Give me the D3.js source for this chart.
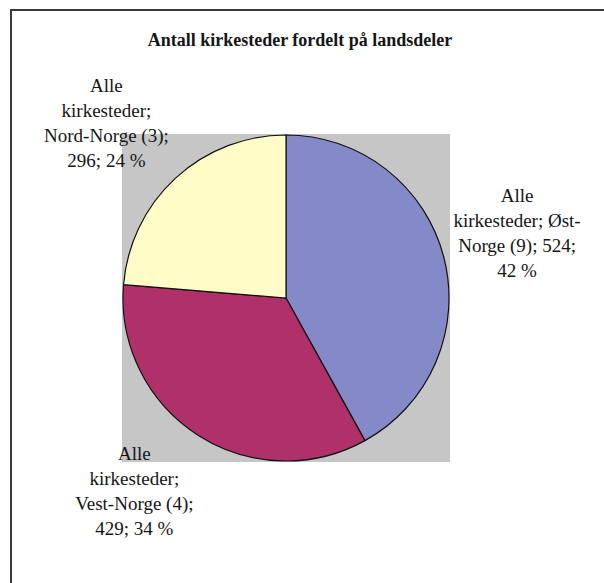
<!DOCTYPE html>
<html>
<head>
<meta charset="utf-8">
<script src="https://cdn.jsdelivr.net/npm/d3@7"></script>
<style>
  body { margin: 0; background: #fff; }
  text { font-family: "Liberation Serif", "Times New Roman", Times, "Nimbus Roman", "DejaVu Serif", serif; fill: #151515; }
</style>
</head>
<body>
<div id="chart"></div>
<script>
var title = "Antall kirkesteder fordelt på landsdeler";
var regions = ["Øst-Norge (9)", "Vest-Norge (4)", "Nord-Norge (3)"];
var counts = [524, 429, 296];
var percents = [42, 34, 24];
var colors = ["#8489c8", "#b0316a", "#fffcc8"];
// label text broken the way the original wraps it
var labelLines = [
  ["Alle", "kirkesteder; Øst-", "Norge (9); 524;", "42 %"],
  ["Alle", "kirkesteder;", "Vest-Norge (4);", "429; 34 %"],
  ["Alle", "kirkesteder;", "Nord-Norge (3);", "296; 24 %"]
];

var width = 604, height = 583;
var plot = {x: 122, y: 134, size: 328};
var radius = 163,
  lineH = 25;

var data = regions.map(function(d, i) {
  return {region: d, count: counts[i], pct: percents[i], color: colors[i], lines: labelLines[i]};
});

var svg = d3.select("#chart").append("svg")
  .attr("width", width)
  .attr("height", height);

// chart frame (right and bottom edges fall outside the crop)
svg.append("rect")
  .attr("x", 11)
  .attr("y", 10)
  .attr("width", width + 20)
  .attr("height", height + 20)
  .attr("fill", "#fff")
  .attr("stroke", "#3a3a3a")
  .attr("stroke-width", 2);

svg.append("text")
  .attr("x", 300)
  .attr("y", 46)
  .attr("text-anchor", "middle")
  .style("font-size", "18px")
  .style("font-weight", "bold")
  .text(title);

// plot area
svg.append("rect")
  .attr("x", plot.x)
  .attr("y", plot.y)
  .attr("width", plot.size)
  .attr("height", plot.size)
  .attr("fill", "#c6c6c6");

var cx = plot.x + plot.size / 2,
  cy = plot.y + plot.size / 2;

var pie = d3.pie()
  .sort(null)
  .value(function(d) { return d.count; });

var arc = d3.arc()
  .innerRadius(0)
  .outerRadius(radius);

var arcs = pie(data);

var g = svg.append("g")
  .attr("transform", "translate(" + cx + "," + cy + ")");

g.selectAll("path.slice")
  .data(arcs)
  .enter().append("path")
    .attr("class", "slice")
    .attr("d", arc)
    .attr("fill", function(d) { return d.data.color; })
    .attr("stroke", "#111")
    .attr("stroke-width", 1.2);

// labels: anchor the box edge/corner facing the pie on a ring just outside it
var labelR = radius + 10;

var labels = g.selectAll("g.label")
  .data(arcs)
  .enter().append("g")
    .attr("class", "label");

labels.append("text")
  .attr("text-anchor", "middle")
  .style("font-size", "19px")
  .selectAll("tspan")
    .data(function(d) { return d.data.lines; })
  .enter().append("tspan")
    .attr("x", 0)
    .attr("y", function(d, i, nodes) { return (i - (nodes.length - 1) / 2) * lineH; })
    .attr("dy", "0.35em")
    .text(function(d) { return d; });

labels.attr("transform", function(d) {
  var box = this.getBBox();
  var a = (d.startAngle + d.endAngle) / 2;
  var ux = Math.sin(a), uy = -Math.cos(a);
  var sx = Math.max(-1, Math.min(1, ux * 1.8)),
    sy = Math.max(-1, Math.min(1, uy * 1.8));
  var x = labelR * ux + sx * box.width / 2,
    y = labelR * uy + sy * box.height / 2;
  return "translate(" + x + "," + y + ")";
});
</script>
</body>
</html>
